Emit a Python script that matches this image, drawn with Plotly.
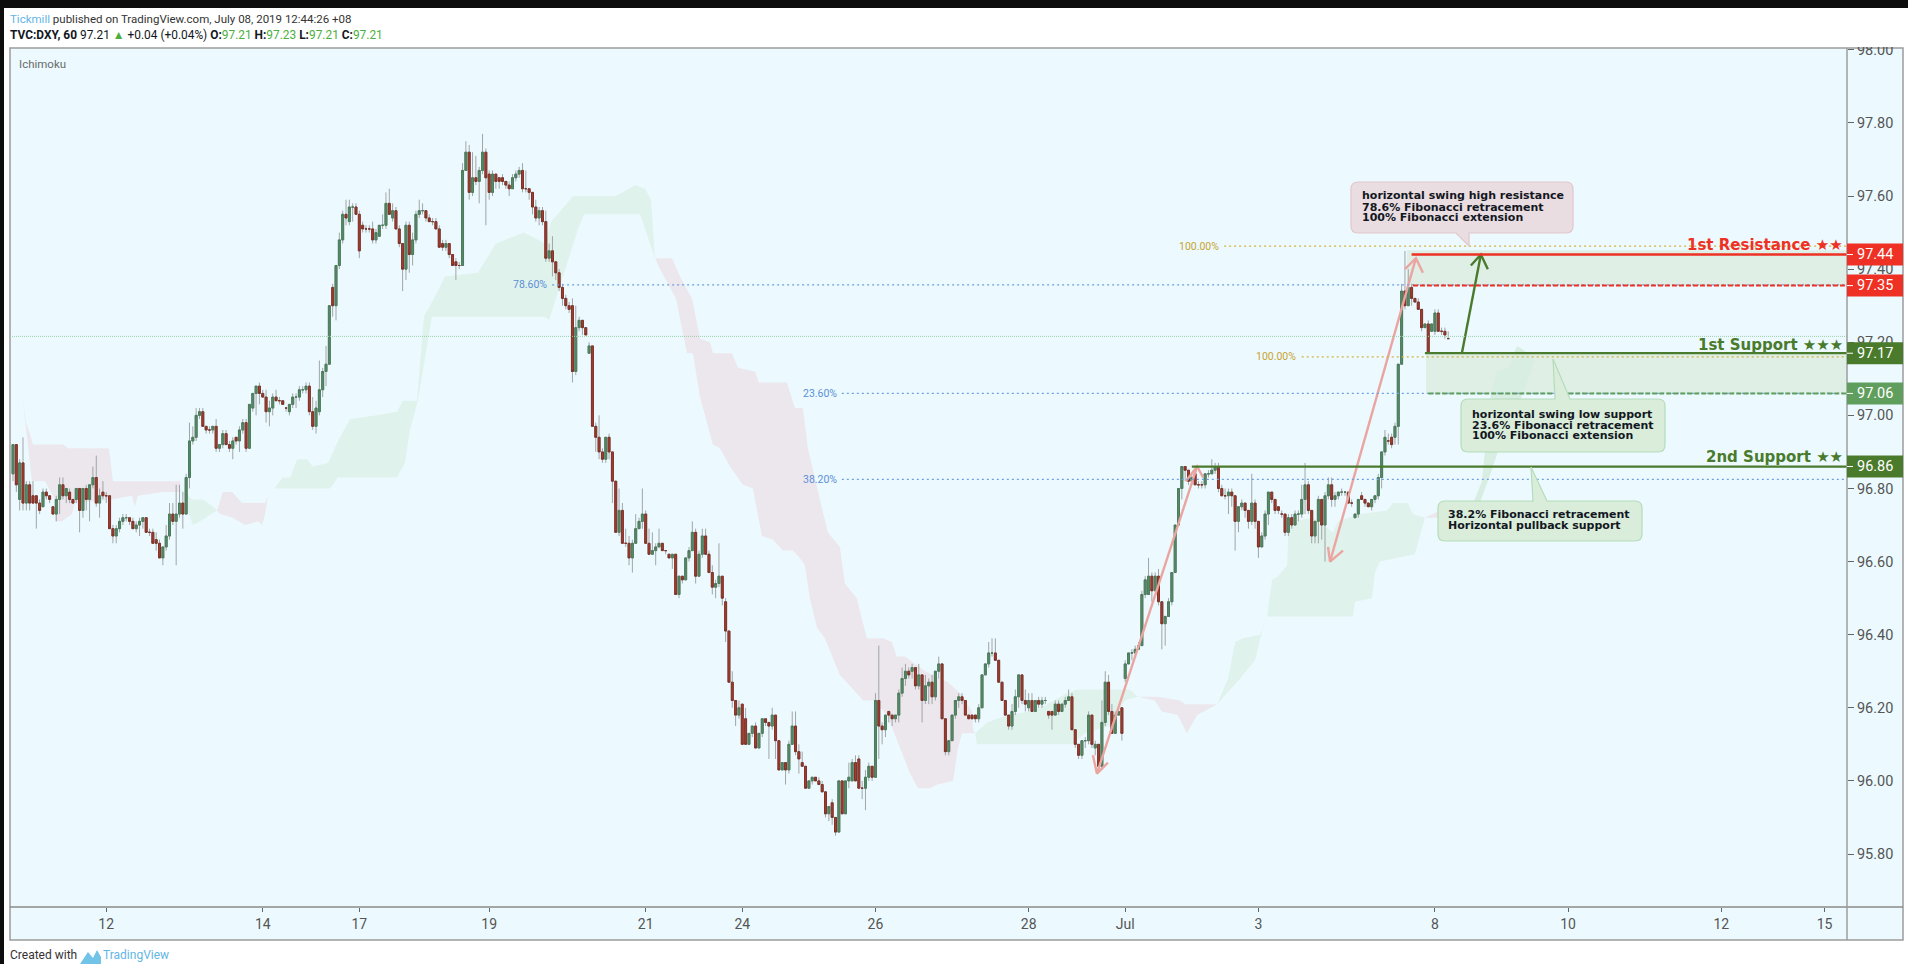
"""
TVC:DXY 60m candles with Ichimoku cloud and support / resistance levels
"""
import plotly.graph_objects as go

W, H = 1908, 964
FONT = "Roboto, Open Sans, sans-serif"
NOTE_FONT = "DejaVu Sans, sans-serif"

opens = [
    96.84, 96.92, 96.77, 96.87, 96.76, 96.81, 96.78, 96.78, 96.76, 96.75,
    96.79, 96.78, 96.75, 96.73, 96.77, 96.81, 96.78, 96.79, 96.77, 96.77,
    96.80, 96.74, 96.80, 96.77, 96.81, 96.83, 96.76, 96.79, 96.78, 96.78,
    96.69, 96.67, 96.69, 96.71, 96.72, 96.72, 96.71, 96.69, 96.70, 96.71,
    96.72, 96.68, 96.68, 96.66, 96.65, 96.61, 96.64, 96.67, 96.73, 96.71,
    96.73, 96.76, 96.73, 96.83, 96.93, 96.94, 97.00, 97.01, 96.97, 96.96,
    96.96, 96.97, 96.91, 96.92, 96.95, 96.92, 96.91, 96.94, 96.93, 96.96,
    96.98, 96.91, 97.02, 97.06, 97.08, 97.06, 97.05, 97.01, 97.02, 97.05,
    97.04, 97.04, 97.02, 97.01, 97.03, 97.05, 97.05, 97.07, 97.07, 97.08,
    97.01, 96.97, 97.01, 97.07, 97.12, 97.14, 97.35, 97.30, 97.41, 97.48,
    97.55, 97.53, 97.57, 97.57, 97.55, 97.52, 97.51, 97.51, 97.51, 97.48,
    97.49, 97.52, 97.52, 97.58, 97.54, 97.56, 97.51, 97.47, 97.40, 97.52,
    97.44, 97.48, 97.55, 97.56, 97.56, 97.54, 97.53, 97.53, 97.51, 97.47,
    97.46, 97.47, 97.44, 97.42, 97.41, 97.41, 97.67, 97.72, 97.61, 97.65,
    97.64, 97.67, 97.72, 97.66, 97.61, 97.66, 97.65, 97.65, 97.64, 97.63,
    97.62, 97.65, 97.66, 97.67, 97.62, 97.62, 97.61, 97.57, 97.54, 97.56,
    97.53, 97.43, 97.45, 97.42, 97.39, 97.35, 97.32, 97.30, 97.30, 97.12,
    97.24, 97.26, 97.24, 97.17, 97.19, 96.97, 96.94, 96.90, 96.88, 96.94,
    96.90, 96.82, 96.68, 96.74, 96.65, 96.65, 96.61, 96.65, 96.69, 96.71,
    96.73, 96.65, 96.62, 96.63, 96.64, 96.65, 96.63, 96.62, 96.61, 96.62,
    96.51, 96.56, 96.55, 96.61, 96.63, 96.68, 96.56, 96.62, 96.67, 96.62,
    96.57, 96.53, 96.54, 96.56, 96.49, 96.41, 96.27, 96.22, 96.18, 96.21,
    96.17, 96.10, 96.13, 96.15, 96.09, 96.13, 96.17, 96.16, 96.15, 96.18,
    96.11, 96.03, 96.05, 96.03, 96.10, 96.15, 96.08, 96.05, 96.04, 95.98,
    96.00, 96.01, 96.00, 95.99, 95.97, 95.91, 95.94, 95.90, 95.86, 96.00,
    95.91, 96.00, 96.00, 96.05, 96.06, 95.98, 95.98, 96.01, 96.04, 96.01,
    96.22, 96.15, 96.14, 96.19, 96.18, 96.17, 96.18, 96.24, 96.28, 96.30,
    96.30, 96.31, 96.26, 96.29, 96.22, 96.26, 96.27, 96.23, 96.30, 96.32,
    96.17, 96.08, 96.11, 96.18, 96.22, 96.23, 96.22, 96.18, 96.18, 96.18,
    96.17, 96.20, 96.29, 96.32, 96.35, 96.35, 96.33, 96.27, 96.22, 96.18,
    96.15, 96.19, 96.23, 96.29, 96.22, 96.20, 96.22, 96.19, 96.22, 96.21,
    96.22, 96.19, 96.19, 96.18, 96.21, 96.19, 96.21, 96.22, 96.23, 96.14,
    96.10, 96.07, 96.11, 96.11, 96.18, 96.09, 96.10, 96.04, 96.16, 96.27,
    96.19, 96.13, 96.18, 96.20, 96.28, 96.32, 96.35, 96.35, 96.36, 96.37,
    96.51, 96.51, 96.56, 96.52, 96.56, 96.49, 96.43, 96.45, 96.49, 96.57,
    96.70, 96.80, 96.86, 96.85, 96.82, 96.84, 96.81, 96.81, 96.81, 96.84,
    96.84, 96.85, 96.86, 96.80, 96.78, 96.78, 96.79, 96.78, 96.71, 96.75,
    96.76, 96.74, 96.71, 96.76, 96.71, 96.64, 96.67, 96.73, 96.79, 96.77,
    96.75, 96.73, 96.73, 96.68, 96.72, 96.70, 96.73, 96.73, 96.77, 96.81,
    96.74, 96.67, 96.71, 96.77, 96.70, 96.78, 96.81, 96.77, 96.78, 96.79,
    96.79, 96.79, 96.76, 96.72, 96.73, 96.78, 96.77, 96.76, 96.75, 96.77, 96.78,
    96.83, 96.90, 96.93, 96.94, 96.94, 96.97, 97.14, 97.34, 97.30, 97.35,
    97.32, 97.31, 97.29, 97.24, 97.25, 97.23, 97.23, 97.28, 97.23, 97.23, 97.21,
]
highs = [
    96.92, 96.92, 96.88, 96.94, 96.82, 96.82, 96.82, 96.78, 96.77, 96.80,
    96.80, 96.78, 96.75, 96.78, 96.83, 96.83, 96.80, 96.80, 96.77, 96.80,
    96.80, 96.80, 96.81, 96.81, 96.86, 96.89, 96.80, 96.82, 96.79, 96.78,
    96.70, 96.70, 96.72, 96.73, 96.73, 96.72, 96.72, 96.71, 96.72, 96.72,
    96.72, 96.69, 96.69, 96.68, 96.66, 96.64, 96.70, 96.76, 96.76, 96.81,
    96.81, 96.79, 96.84, 96.98, 96.97, 97.02, 97.02, 97.02, 96.97, 96.97,
    96.97, 96.99, 96.92, 96.96, 96.96, 96.93, 96.94, 96.94, 96.97, 96.99,
    96.99, 97.03, 97.06, 97.08, 97.09, 97.07, 97.07, 97.04, 97.06, 97.07,
    97.05, 97.04, 97.02, 97.03, 97.06, 97.06, 97.08, 97.08, 97.09, 97.09,
    97.05, 97.04, 97.15, 97.13, 97.19, 97.30, 97.36, 97.41, 97.50, 97.56,
    97.59, 97.59, 97.58, 97.58, 97.56, 97.53, 97.52, 97.52, 97.53, 97.51,
    97.52, 97.55, 97.61, 97.62, 97.58, 97.57, 97.52, 97.47, 97.53, 97.53,
    97.50, 97.56, 97.59, 97.58, 97.56, 97.55, 97.54, 97.54, 97.52, 97.48,
    97.48, 97.47, 97.44, 97.43, 97.42, 97.69, 97.75, 97.74, 97.72, 97.71,
    97.68, 97.77, 97.73, 97.67, 97.67, 97.66, 97.65, 97.66, 97.64, 97.64,
    97.66, 97.67, 97.68, 97.69, 97.67, 97.62, 97.61, 97.59, 97.57, 97.57,
    97.56, 97.47, 97.49, 97.42, 97.40, 97.36, 97.33, 97.31, 97.32, 97.30,
    97.27, 97.26, 97.24, 97.20, 97.19, 96.98, 97.00, 96.91, 96.94, 96.95,
    96.90, 96.82, 96.80, 96.76, 96.69, 96.67, 96.66, 96.73, 96.72, 96.80,
    96.74, 96.69, 96.68, 96.65, 96.69, 96.65, 96.63, 96.62, 96.62, 96.62,
    96.56, 96.56, 96.61, 96.64, 96.71, 96.69, 96.63, 96.69, 96.69, 96.63,
    96.59, 96.55, 96.65, 96.56, 96.50, 96.41, 96.30, 96.22, 96.22, 96.21,
    96.20, 96.13, 96.15, 96.16, 96.13, 96.17, 96.17, 96.16, 96.20, 96.18,
    96.11, 96.05, 96.05, 96.11, 96.19, 96.19, 96.10, 96.08, 96.04, 96.00,
    96.01, 96.01, 96.01, 96.00, 95.97, 95.93, 95.95, 95.90, 96.00, 96.00,
    96.00, 96.05, 96.06, 96.07, 96.07, 96.00, 96.03, 96.05, 96.04, 96.24,
    96.37, 96.16, 96.18, 96.19, 96.18, 96.18, 96.25, 96.31, 96.32, 96.31,
    96.32, 96.31, 96.32, 96.29, 96.29, 96.28, 96.29, 96.30, 96.34, 96.32,
    96.17, 96.11, 96.18, 96.22, 96.24, 96.24, 96.22, 96.18, 96.18, 96.18,
    96.21, 96.29, 96.32, 96.38, 96.39, 96.39, 96.33, 96.27, 96.22, 96.18,
    96.21, 96.25, 96.29, 96.29, 96.25, 96.24, 96.24, 96.22, 96.23, 96.23,
    96.23, 96.19, 96.19, 96.22, 96.22, 96.21, 96.23, 96.25, 96.24, 96.14,
    96.10, 96.11, 96.12, 96.19, 96.18, 96.11, 96.10, 96.22, 96.30, 96.29,
    96.21, 96.19, 96.20, 96.20, 96.33, 96.35, 96.36, 96.37, 96.38, 96.52,
    96.56, 96.61, 96.57, 96.57, 96.58, 96.49, 96.45, 96.50, 96.57, 96.70,
    96.80, 96.86, 96.86, 96.85, 96.84, 96.84, 96.82, 96.82, 96.84, 96.85,
    96.88, 96.87, 96.87, 96.81, 96.80, 96.80, 96.80, 96.78, 96.75, 96.77,
    96.76, 96.74, 96.84, 96.77, 96.71, 96.68, 96.74, 96.79, 96.79, 96.77,
    96.75, 96.74, 96.73, 96.73, 96.73, 96.74, 96.74, 96.81, 96.87, 96.82,
    96.74, 96.71, 96.78, 96.77, 96.79, 96.83, 96.83, 96.79, 96.79, 96.80,
    96.79, 96.79, 96.77, 96.73, 96.77, 96.79, 96.77, 96.76, 96.77, 96.78, 96.84,
    96.90, 96.96, 96.95, 96.95, 96.98, 97.14, 97.36, 97.45, 97.40, 97.36,
    97.32, 97.32, 97.29, 97.25, 97.26, 97.25, 97.29, 97.29, 97.24, 97.24, 97.23,
]
lows = [
    96.82, 96.79, 96.74, 96.74, 96.74, 96.74, 96.76, 96.69, 96.73, 96.75,
    96.77, 96.76, 96.73, 96.71, 96.73, 96.77, 96.76, 96.76, 96.76, 96.76,
    96.68, 96.72, 96.74, 96.71, 96.80, 96.75, 96.72, 96.77, 96.76, 96.69,
    96.65, 96.65, 96.68, 96.70, 96.71, 96.70, 96.69, 96.68, 96.67, 96.69,
    96.68, 96.67, 96.65, 96.63, 96.61, 96.59, 96.63, 96.66, 96.70, 96.59,
    96.72, 96.69, 96.73, 96.80, 96.92, 96.93, 96.99, 96.97, 96.95, 96.95,
    96.95, 96.90, 96.90, 96.91, 96.92, 96.90, 96.88, 96.92, 96.90, 96.95,
    96.90, 96.91, 97.01, 97.00, 97.03, 97.05, 96.98, 96.97, 97.00, 97.04,
    97.03, 97.03, 97.01, 97.00, 97.02, 97.02, 97.04, 97.06, 97.06, 97.00,
    96.96, 96.95, 97.00, 97.05, 97.08, 97.14, 97.27, 97.26, 97.40, 97.47,
    97.52, 97.52, 97.53, 97.55, 97.43, 97.50, 97.50, 97.50, 97.47, 97.47,
    97.49, 97.51, 97.51, 97.55, 97.53, 97.51, 97.46, 97.34, 97.37, 97.39,
    97.41, 97.47, 97.54, 97.55, 97.53, 97.53, 97.52, 97.51, 97.46, 97.45,
    97.45, 97.43, 97.41, 97.37, 97.40, 97.41, 97.67, 97.59, 97.60, 97.63,
    97.58, 97.66, 97.52, 97.59, 97.60, 97.62, 97.62, 97.63, 97.62, 97.60,
    97.62, 97.64, 97.65, 97.61, 97.61, 97.59, 97.55, 97.53, 97.52, 97.52,
    97.42, 97.42, 97.38, 97.37, 97.34, 97.30, 97.29, 97.28, 97.09, 97.11,
    97.23, 97.22, 97.22, 97.17, 96.97, 96.90, 96.88, 96.87, 96.87, 96.88,
    96.76, 96.68, 96.67, 96.65, 96.64, 96.59, 96.57, 96.65, 96.69, 96.69,
    96.65, 96.62, 96.62, 96.59, 96.64, 96.63, 96.62, 96.61, 96.58, 96.51,
    96.50, 96.54, 96.55, 96.60, 96.63, 96.54, 96.56, 96.61, 96.62, 96.57,
    96.51, 96.50, 96.53, 96.48, 96.38, 96.27, 96.20, 96.15, 96.17, 96.10,
    96.10, 96.10, 96.12, 96.09, 96.09, 96.12, 96.15, 96.06, 96.14, 96.06,
    96.03, 96.03, 95.99, 96.02, 96.10, 96.07, 96.02, 96.04, 95.98, 95.98,
    95.99, 96.00, 95.99, 95.97, 95.90, 95.89, 95.88, 95.85, 95.86, 95.91,
    95.91, 95.98, 96.00, 96.00, 95.98, 95.95, 95.92, 96.00, 96.00, 96.01,
    96.06, 96.10, 96.12, 96.16, 96.15, 96.16, 96.16, 96.23, 96.26, 96.28,
    96.28, 96.25, 96.25, 96.16, 96.21, 96.21, 96.21, 96.22, 96.28, 96.17,
    96.07, 96.07, 96.11, 96.17, 96.20, 96.21, 96.18, 96.17, 96.17, 96.16,
    96.16, 96.20, 96.29, 96.31, 96.34, 96.33, 96.27, 96.22, 96.18, 96.14,
    96.14, 96.18, 96.20, 96.21, 96.19, 96.19, 96.19, 96.19, 96.20, 96.20,
    96.21, 96.17, 96.14, 96.18, 96.18, 96.19, 96.20, 96.22, 96.14, 96.09,
    96.06, 96.06, 96.09, 96.10, 96.09, 96.07, 96.03, 96.03, 96.15, 96.18,
    96.13, 96.13, 96.18, 96.11, 96.27, 96.32, 96.33, 96.34, 96.36, 96.37,
    96.50, 96.51, 96.49, 96.52, 96.48, 96.36, 96.37, 96.45, 96.48, 96.57,
    96.70, 96.77, 96.82, 96.81, 96.81, 96.81, 96.80, 96.80, 96.80, 96.83,
    96.84, 96.84, 96.79, 96.78, 96.77, 96.73, 96.75, 96.63, 96.68, 96.74,
    96.72, 96.69, 96.70, 96.69, 96.61, 96.64, 96.66, 96.70, 96.76, 96.73,
    96.73, 96.72, 96.67, 96.67, 96.69, 96.70, 96.71, 96.72, 96.73, 96.73,
    96.65, 96.65, 96.65, 96.66, 96.60, 96.77, 96.75, 96.75, 96.77, 96.78,
    96.78, 96.76, 96.75, 96.72, 96.72, 96.77, 96.75, 96.75, 96.74, 96.76, 96.77,
    96.80, 96.89, 96.92, 96.91, 96.92, 96.92, 97.14, 97.29, 97.30, 97.30,
    97.31, 97.29, 97.23, 97.24, 97.17, 97.23, 97.22, 97.23, 97.22, 97.21, 97.21,
]
closes = [
    96.92, 96.81, 96.87, 96.76, 96.81, 96.76, 96.76, 96.76, 96.74, 96.79,
    96.78, 96.77, 96.73, 96.77, 96.81, 96.78, 96.80, 96.77, 96.76, 96.80,
    96.74, 96.80, 96.77, 96.81, 96.83, 96.76, 96.78, 96.78, 96.78, 96.69,
    96.67, 96.69, 96.71, 96.72, 96.72, 96.71, 96.69, 96.70, 96.71, 96.72,
    96.68, 96.68, 96.65, 96.65, 96.61, 96.64, 96.67, 96.73, 96.71, 96.73,
    96.76, 96.73, 96.83, 96.93, 96.94, 97.00, 97.01, 96.97, 96.96, 96.96,
    96.97, 96.91, 96.92, 96.95, 96.92, 96.91, 96.93, 96.93, 96.96, 96.98,
    96.91, 97.03, 97.06, 97.08, 97.06, 97.05, 97.01, 97.02, 97.05, 97.04,
    97.04, 97.03, 97.02, 97.03, 97.05, 97.05, 97.07, 97.07, 97.08, 97.01,
    96.97, 97.02, 97.07, 97.12, 97.14, 97.30, 97.30, 97.41, 97.48, 97.55,
    97.54, 97.57, 97.57, 97.55, 97.45, 97.51, 97.51, 97.51, 97.48, 97.50,
    97.52, 97.52, 97.58, 97.55, 97.56, 97.51, 97.47, 97.40, 97.52, 97.44,
    97.48, 97.55, 97.56, 97.56, 97.54, 97.53, 97.53, 97.51, 97.46, 97.46,
    97.47, 97.44, 97.41, 97.41, 97.41, 97.67, 97.72, 97.61, 97.65, 97.64,
    97.67, 97.72, 97.65, 97.61, 97.66, 97.64, 97.64, 97.64, 97.63, 97.62,
    97.65, 97.66, 97.67, 97.62, 97.62, 97.61, 97.57, 97.54, 97.56, 97.53,
    97.43, 97.45, 97.42, 97.39, 97.35, 97.32, 97.30, 97.29, 97.12, 97.24,
    97.26, 97.24, 97.22, 97.19, 96.97, 96.94, 96.90, 96.88, 96.94, 96.90,
    96.82, 96.68, 96.74, 96.65, 96.65, 96.61, 96.65, 96.69, 96.71, 96.73,
    96.65, 96.62, 96.63, 96.64, 96.65, 96.63, 96.63, 96.61, 96.62, 96.51,
    96.56, 96.55, 96.61, 96.63, 96.68, 96.56, 96.62, 96.67, 96.62, 96.57,
    96.53, 96.54, 96.56, 96.50, 96.41, 96.27, 96.22, 96.18, 96.20, 96.10,
    96.10, 96.13, 96.15, 96.09, 96.13, 96.17, 96.16, 96.15, 96.18, 96.11,
    96.03, 96.05, 96.03, 96.10, 96.15, 96.08, 96.06, 96.04, 95.98, 96.00,
    96.01, 96.00, 95.99, 95.97, 95.91, 95.93, 95.90, 95.86, 96.00, 95.91,
    96.00, 96.01, 96.05, 96.00, 95.98, 95.98, 96.01, 96.04, 96.01, 96.22,
    96.15, 96.14, 96.18, 96.18, 96.17, 96.18, 96.24, 96.28, 96.30, 96.29,
    96.31, 96.26, 96.29, 96.22, 96.26, 96.27, 96.23, 96.30, 96.32, 96.17,
    96.08, 96.11, 96.18, 96.22, 96.23, 96.22, 96.18, 96.17, 96.17, 96.17,
    96.20, 96.29, 96.32, 96.35, 96.35, 96.33, 96.27, 96.22, 96.18, 96.15,
    96.19, 96.23, 96.29, 96.22, 96.21, 96.22, 96.19, 96.22, 96.21, 96.22,
    96.22, 96.18, 96.18, 96.21, 96.19, 96.21, 96.22, 96.23, 96.14, 96.10,
    96.07, 96.11, 96.11, 96.18, 96.10, 96.10, 96.04, 96.16, 96.27, 96.19,
    96.13, 96.18, 96.19, 96.13, 96.32, 96.35, 96.35, 96.36, 96.37, 96.51,
    96.55, 96.56, 96.52, 96.56, 96.49, 96.43, 96.45, 96.49, 96.57, 96.70,
    96.80, 96.86, 96.85, 96.82, 96.83, 96.81, 96.81, 96.81, 96.84, 96.84,
    96.85, 96.86, 96.80, 96.78, 96.78, 96.79, 96.78, 96.71, 96.75, 96.76,
    96.74, 96.71, 96.76, 96.71, 96.64, 96.67, 96.73, 96.79, 96.77, 96.74,
    96.74, 96.73, 96.68, 96.72, 96.70, 96.73, 96.73, 96.77, 96.81, 96.74,
    96.67, 96.71, 96.77, 96.70, 96.78, 96.81, 96.77, 96.78, 96.79, 96.79,
    96.79, 96.76, 96.76, 96.73, 96.77, 96.77, 96.76, 96.75, 96.77, 96.78, 96.83,
    96.90, 96.94, 96.93, 96.92, 96.97, 97.14, 97.34, 97.30, 97.35, 97.32,
    97.31, 97.29, 97.24, 97.25, 97.17, 97.25, 97.28, 97.23, 97.23, 97.22, 97.21,
]
bars = list(range(len(closes)))

# cloud outlines, one upper and one lower edge per stretch
pink1_upper_x = [2.7, 3.9, 5.1, 6, 15, 16.5, 28.8, 30, 50.2]
pink1_upper_y = [97.06, 96.98, 96.95, 96.92, 96.92, 96.91, 96.91, 96.82, 96.82]
pink1_lower_x = [2.7, 5.7, 9.6, 12.6, 12.6, 14.7, 17.7, 18.6, 29.7, 35.7, 36.6, 37.5, 45, 50.2]
pink1_lower_y = [97.06, 96.82, 96.82, 96.77, 96.71, 96.71, 96.73, 96.76, 96.77, 96.78, 96.75, 96.78, 96.79, 96.79]
green2_upper_x = [50.2, 53.8, 57, 60, 61.3]
green2_upper_y = [96.80, 96.77, 96.77, 96.75, 96.74]
green2_lower_x = [50.2, 54, 56.2, 59.5, 61.3]
green2_lower_y = [96.80, 96.70, 96.71, 96.73, 96.74]
pink3_upper_x = [61.3, 63, 65.8, 68.8, 75.7, 76.6]
pink3_upper_y = [96.74, 96.79, 96.79, 96.76, 96.76, 96.78]
pink3_lower_x = [61.3, 62.2, 66, 69.7, 73.6, 74.8, 75.7, 76.6]
pink3_lower_y = [96.74, 96.73, 96.72, 96.70, 96.71, 96.70, 96.73, 96.78]
green4_upper_x = [76.6, 78.4, 81, 83.2, 85.3, 88.3, 90, 94.6, 97.6, 101.2, 109.3, 115.3, 117.1, 121.3, 123.4,
                  127.6, 129.7, 139.6, 145, 153.4, 159.8, 161.6, 168.2, 181, 186.8, 189.8, 191.6, 192.8]
green4_upper_y = [96.78, 96.80, 96.83, 96.83, 96.88, 96.88, 96.86, 96.87, 96.93, 96.99, 97.00, 97.01, 97.04, 97.04, 97.27,
                  97.34, 97.38, 97.39, 97.47, 97.50, 97.47, 97.53, 97.60, 97.60, 97.63, 97.62, 97.59, 97.43]
green4_lower_x = [76.6, 78.4, 95.2, 97.6, 115.3, 117.7, 119.2, 121.6, 125.8, 159.8, 161, 169.7, 171.5, 188.3, 192.8]
green4_lower_y = [96.78, 96.80, 96.80, 96.83, 96.83, 96.87, 96.96, 97.04, 97.27, 97.27, 97.26, 97.51, 97.55, 97.55, 97.43]
pink5_upper_x = [192.8, 197.9, 200.3, 203.9, 206.3, 209.3, 210.2, 215.9, 217.7, 222.8, 224, 232.4, 234.8, 237.2, 238.7,
                 242.3, 244.7, 248.3, 249.8, 253.4, 256.4, 261.3, 263.9, 265.4, 267.9, 273.9, 280.8, 284.4, 288, 288.3, 288.9]
pink5_upper_y = [97.43, 97.43, 97.38, 97.32, 97.21, 97.20, 97.17, 97.17, 97.13, 97.12, 97.09, 97.09, 97.02, 97.02, 96.91,
                 96.77, 96.68, 96.64, 96.54, 96.50, 96.39, 96.39, 96.38, 96.34, 96.34, 96.30, 96.27, 96.24, 96.19, 96.14, 96.13]
pink5_lower_x = [192.8, 194.3, 199.1, 202.4, 204.2, 206.3, 208.4, 210.2, 212.3, 215.3, 219.2, 222.2, 224.9, 228.2, 231.2, 234.2,
                 236.3, 237.8, 239.3, 241.4, 243.8, 248.3, 251.3, 255.3, 258.3, 262.5, 266.4, 269.4, 271.8, 275.4, 277.5,
                 282.3, 283.8, 285, 288.9]
pink5_lower_y = [97.43, 97.40, 97.32, 97.17, 97.17, 97.05, 96.98, 96.92, 96.91, 96.86, 96.81, 96.80, 96.67, 96.66, 96.63, 96.63,
                 96.61, 96.59, 96.50, 96.42, 96.39, 96.29, 96.26, 96.22, 96.22, 96.18, 96.09, 96.02, 95.98, 95.98, 95.99,
                 96.00, 96.09, 96.13, 96.13]
green6_upper_x = [288.9, 292.5, 298.5, 305.4, 310.5, 316.5, 319.5, 322.5, 335.4, 337.8]
green6_upper_y = [96.13, 96.16, 96.18, 96.19, 96.21, 96.24, 96.25, 96.25, 96.25, 96.23]
green6_lower_x = [288.9, 289.5, 318, 321.9, 329.4, 333.9, 337.8]
green6_lower_y = [96.13, 96.10, 96.10, 96.13, 96.15, 96.22, 96.23]
pink7_upper_x = [337.8, 343.8, 350.4, 351.9, 361.6]
pink7_upper_y = [96.23, 96.23, 96.22, 96.21, 96.21]
pink7_lower_x = [337.8, 342.9, 345, 349.8, 352.5, 355.6, 361.6]
pink7_lower_y = [96.23, 96.22, 96.19, 96.18, 96.13, 96.18, 96.21]
green8_upper_x = [361.6, 364.9, 367, 369.4, 374.5, 376.6, 378.1, 379.9, 382.6, 382.9, 384.1, 390.4, 396.4, 397.9, 404.5,
                  412.6, 414.4, 418.9, 420.4, 424]
green8_upper_y = [96.21, 96.28, 96.38, 96.39, 96.40, 96.45, 96.55, 96.56, 96.59, 96.67, 96.71, 96.72, 96.68, 96.71, 96.73,
                  96.74, 96.76, 96.76, 96.73, 96.72]
green8_lower_x = [361.6, 368.5, 373, 375.1, 376.6, 402.4, 403, 408.1, 409, 410.5, 421, 424]
green8_lower_y = [96.21, 96.28, 96.33, 96.41, 96.45, 96.45, 96.49, 96.50, 96.57, 96.60, 96.62, 96.72]
pink9_upper_x = [424, 428.5]
pink9_upper_y = [96.72, 96.74]
pink9_lower_x = [424, 428.5]
pink9_lower_y = [96.72, 96.72]
green10_upper_x = [428.5, 438.1, 441.1, 443.8, 445.6, 449.2, 451.6, 453.5, 457.1]
green10_upper_y = [96.73, 96.75, 96.82, 97.06, 97.12, 97.13, 97.19, 97.18, 97.15]
green10_lower_x = [428.5, 440.5, 444.1, 448, 452.6, 457.1]
green10_lower_y = [96.73, 96.76, 96.85, 96.96, 97.04, 97.15]

# levels on the price scale
level_prices = [97.44, 97.355, 97.17, 97.06, 96.86]
level_labels = ["97.44", "97.35", "97.17", "97.06", "96.86"]
level_starts = [420, 420.4, 424, 425, 354]
level_colors = ["#ee3124", "#ee3124", "#4a7a2c", "#5f9e5c", "#4a7a2c"]
level_dashes = ["solid", "5px,2px", "solid", "5px,2px", "solid"]
level_widths = [2.5, 2, 2.2, 2, 2.2]
level_names = ["1st Resistance ★★", None, "1st Support ★★★", None, "2nd Support ★★"]
name_prices = [97.465, None, 97.193, None, 96.885]

fib_prices = [97.357, 97.06, 96.825]
fib_labels = ["78.60%", "23.60%", "38.20%"]
fib_starts = [161.9, 248.9, 248.9]
ext_prices = [97.463, 97.16]
ext_starts = [363.7, 387]
last_price = 97.216

zone_tops = [97.452, 97.17]
zone_bottoms = [97.355, 97.06]
zone_starts = [418.6, 424.3]

pink_arrow_x = [325.5, 355.6, None, 352.2, 355.6, 357.4, None, 324.3, 325.5, 328.8, None,
                395.5, 421.3, None, 418, 421.3, 423.4, None, 394.9, 395.5, 399.4]
pink_arrow_y = [96.02, 96.86, None, 96.82, 96.86, 96.83, None, 96.07, 96.02, 96.05, None,
                96.60, 97.43, None, 97.40, 97.43, 97.39, None, 96.64, 96.60, 96.63]
green_arrow_x = [435.1, 440.8, None, 437.8, 440.8, 442.9]
green_arrow_y = [97.17, 97.44, None, 97.41, 97.44, 97.40]

y_ticks = [95.8, 96.0, 96.2, 96.4, 96.6, 96.8, 97.0, 97.2, 97.4, 97.6, 97.8, 98.0]
x_ticks = [28, 75, 104, 143, 190, 219, 259, 305, 334, 374, 427, 467, 513, 544]
x_labels = ["12", "14", "17", "19", "21", "24", "26", "28", "Jul", "3", "8", "10", "12", "15"]

X_MIN, X_MAX = -0.9, 550.75


def px(x):
    return x / W


def py(y):
    return 1 - y / H


def cloud(ux, uy, lx, ly, color):
    # kept as a shape so it stays under the candles
    xs = ux + lx[::-1]
    ys = uy + ly[::-1]
    path = "M" + " L".join(f"{x} {y}" for x, y in zip(xs, ys)) + " Z"
    return dict(type="path", xref="x", yref="y", path=path, fillcolor=color, line=dict(width=0), layer="below")


def note(fig, x, y, text, size=11, color="#131722", family=NOTE_FONT, anchor="left"):
    fig.add_annotation(
        x=px(x), y=py(y), xref="paper", yref="paper", text=text, showarrow=False,
        xanchor=anchor, yanchor="middle", align=anchor, borderpad=0,
        font=dict(family=family, size=size, color=color),
    )


def callout(x0, y0, x1, y1, tail, on_top, fill, edge):
    # rounded box with a pointer, corners given in page pixels
    r = 7
    pts = [("M", x0 + r, y0)]
    if on_top:
        pts += [("L", *t) for t in tail]
    pts += [("L", x1 - r, y0), ("Q", x1, y0, x1, y0 + r), ("L", x1, y1 - r), ("Q", x1, y1, x1 - r, y1)]
    if not on_top:
        pts += [("L", *t) for t in tail[::-1]]
    pts += [("L", x0 + r, y1), ("Q", x0, y1, x0, y1 - r), ("L", x0, y0 + r), ("Q", x0, y0, x0 + r, y0)]
    path = ""
    for p in pts:
        coords = p[1:]
        path += p[0] + " ".join(
            f"{px(v):.5f}" if i % 2 == 0 else f"{py(v):.5f}" for i, v in enumerate(coords)
        ) + " "
    return dict(type="path", xref="paper", yref="paper", path=path + "Z",
                fillcolor=fill, line=dict(color=edge, width=1.2), layer="above")


def page_rect(x0, y0, x1, y1, fill, line=None, layer="above"):
    return dict(type="rect", xref="paper", yref="paper", x0=px(x0), x1=px(x1), y0=py(y0), y1=py(y1),
                fillcolor=fill, line=dict(color=line or fill, width=1.5 if line else 0), layer=layer)


fig = go.Figure()

# grey wicks underneath, coloured bodies on top
WICK = "#a0a5a6"
fig.add_trace(go.Candlestick(
    x=bars, open=opens, high=highs, low=lows, close=closes, whiskerwidth=0, hoverinfo="skip",
    increasing=dict(line=dict(color=WICK, width=1), fillcolor=WICK),
    decreasing=dict(line=dict(color=WICK, width=1), fillcolor=WICK),
))
body_top = [max(o, c) for o, c in zip(opens, closes)]
body_bottom = [min(o, c) for o, c in zip(opens, closes)]
fig.add_trace(go.Candlestick(
    x=bars, open=opens, high=body_top, low=body_bottom, close=closes, whiskerwidth=0,
    increasing=dict(line=dict(color="#4c7c5c", width=1), fillcolor="#558a68"),
    decreasing=dict(line=dict(color="#7d3329", width=1), fillcolor="#a83a2c"),
))

fig.add_trace(go.Scatter(x=pink_arrow_x, y=pink_arrow_y, mode="lines", hoverinfo="skip",
                         line=dict(color="#eaa5a1", width=2.4)))
fig.add_trace(go.Scatter(x=green_arrow_x, y=green_arrow_y, mode="lines", hoverinfo="skip",
                         line=dict(color="#4a7a2c", width=2.4)))

CLOUD_GREEN = "#e0f2ec"
CLOUD_PINK = "#ebe7ed"
shapes = [
    page_rect(0, 0, W, H, "white", layer="below"),
    page_rect(10, 48, 1903, 940, "#ecfaff", line="#9c9c9c", layer="below"),
    cloud(pink1_upper_x, pink1_upper_y, pink1_lower_x, pink1_lower_y, CLOUD_PINK),
    cloud(green2_upper_x, green2_upper_y, green2_lower_x, green2_lower_y, CLOUD_GREEN),
    cloud(pink3_upper_x, pink3_upper_y, pink3_lower_x, pink3_lower_y, CLOUD_PINK),
    cloud(green4_upper_x, green4_upper_y, green4_lower_x, green4_lower_y, CLOUD_GREEN),
    cloud(pink5_upper_x, pink5_upper_y, pink5_lower_x, pink5_lower_y, CLOUD_PINK),
    cloud(green6_upper_x, green6_upper_y, green6_lower_x, green6_lower_y, CLOUD_GREEN),
    cloud(pink7_upper_x, pink7_upper_y, pink7_lower_x, pink7_lower_y, CLOUD_PINK),
    cloud(green8_upper_x, green8_upper_y, green8_lower_x, green8_lower_y, CLOUD_GREEN),
    cloud(pink9_upper_x, pink9_upper_y, pink9_lower_x, pink9_lower_y, CLOUD_PINK),
]
for top, bottom, start in zip(zone_tops, zone_bottoms, zone_starts):
    shapes.append(dict(type="rect", xref="x", yref="y", x0=start, x1=X_MAX, y0=bottom, y1=top,
                       fillcolor="#dfefe6", line=dict(width=0), layer="below"))
shapes.append(cloud(green10_upper_x, green10_upper_y, green10_lower_x, green10_lower_y, "#d9eee3"))

shapes.append(dict(type="line", xref="x", yref="y", x0=X_MIN, x1=X_MAX, y0=last_price, y1=last_price,
                   line=dict(color="#9ccfa9", width=1, dash="1px,1px"), layer="above"))
for price, start in zip(fib_prices, fib_starts):
    shapes.append(dict(type="line", xref="x", yref="y", x0=start, x1=X_MAX, y0=price, y1=price,
                       line=dict(color="#6f9fe0", width=1.3, dash="2px,3px"), layer="above"))
for price, start in zip(ext_prices, ext_starts):
    shapes.append(dict(type="line", xref="x", yref="y", x0=start, x1=X_MAX, y0=price, y1=price,
                       line=dict(color="#d4b13c", width=1.3, dash="2px,3px"), layer="above"))
for price, start, color, dash, width in zip(level_prices, level_starts, level_colors, level_dashes, level_widths):
    shapes.append(dict(type="line", xref="x", yref="y", x0=start, x1=X_MAX, y0=price, y1=price,
                       line=dict(color=color, width=width, dash=dash), layer="above"))

# callouts
shapes.append(callout(1351, 182, 1573, 233, [(1456, 233), (1469, 246), (1469, 233)], False, "#e9dde1", "#e2c6ca"))
shapes.append(callout(1461, 399, 1665, 452, [(1555, 399), (1553, 359), (1570, 399)], True, "#d9edda", "#b6dcb9"))
shapes.append(callout(1438, 501, 1642, 541, [(1533, 501), (1531, 467), (1547, 501)], True, "#d9edda", "#b6dcb9"))

# frame, axis rules, price flags
shapes.append(dict(type="line", xref="paper", yref="paper", x0=px(10), x1=px(1903), y0=py(907), y1=py(907),
                   line=dict(color="#8a8a8a", width=1.5), layer="above"))
shapes.append(dict(type="line", xref="paper", yref="paper", x0=px(1847), x1=px(1847), y0=py(48), y1=py(940),
                   line=dict(color="#9c9c9c", width=1.5), layer="above"))
for price, color in zip(level_prices, level_colors):
    shapes.append(dict(type="rect", xref="paper", yref="y", ysizemode="pixel", yanchor=price,
                       x0=px(1847), x1=px(1903), y0=-11, y1=11,
                       fillcolor=color, line=dict(width=0), layer="above"))
    shapes.append(dict(type="line", xref="paper", yref="y", x0=px(1847), x1=px(1853), y0=price, y1=price,
                       line=dict(color="white", width=1), layer="above"))

# page furniture: hides the clipped 98.00 label top, black screenshot edges, logo
shapes.append(page_rect(1847, 8, W, 47, "white"))
shapes.append(page_rect(0, 0, W, 8, "#0d0d0d"))
shapes.append(page_rect(0, 0, 4, H, "#0d0d0d"))
shapes.append(dict(type="path", xref="paper", yref="paper", fillcolor="#72c3e8", line=dict(width=0), layer="above",
                   path=" ".join(f"{c}{px(x):.5f} {py(y):.5f}" for c, x, y in [
                       ("M", 80, 964), ("L", 88, 952), ("L", 93, 958), ("L", 97, 950), ("L", 101, 957), ("L", 101, 964)
                   ]) + " Z"))

fig.update_layout(
    width=W, height=H, margin=dict(l=0, r=0, t=0, b=0, pad=0),
    paper_bgcolor="white", plot_bgcolor="#ecfaff", showlegend=False,
    boxmode="overlay", boxgap=0.15,
    font=dict(family=FONT, size=14, color="#555555"),
    shapes=shapes,
    xaxis=dict(
        domain=[px(10), px(1847)], range=[X_MIN, X_MAX], type="linear", rangeslider=dict(visible=False),
        tickmode="array", tickvals=x_ticks, ticktext=x_labels, ticks="outside", ticklen=4, tickcolor="#666666",
        tickfont=dict(family=FONT, size=14, color="#555555"),
        showgrid=False, zeroline=False, showline=False, automargin=False, anchor="y",
    ),
    yaxis=dict(
        domain=[py(907), py(48)], range=[95.655, 98.005], side="right", anchor="x",
        tickmode="array", tickvals=y_ticks, ticktext=[f"{v:.2f}" for v in y_ticks],
        ticks="outside", ticklen=6, tickcolor="#666666",
        tickfont=dict(family=FONT, size=14.5, color="#555555"),
        showgrid=False, zeroline=False, showline=False, automargin=False,
    ),
)

# header and footer
note(fig, 9, 19, '<span style="color:#62b6e6">Tickmill</span> published on TradingView.com, July 08, 2019 12:44:26 +08',
     size=11.5, color="#333333", family=FONT)
GRN = "#4caf3d"
note(fig, 9, 35,
     f'<b>TVC:DXY, 60</b> 97.21 <span style="color:{GRN}">▲</span> +0.04 (+0.04%) '
     f'<b>O:</b><span style="color:{GRN}">97.21</span> <b>H:</b><span style="color:{GRN}">97.23</span> '
     f'<b>L:</b><span style="color:{GRN}">97.21</span> <b>C:</b><span style="color:{GRN}">97.21</span>',
     size=11.9, color="#131722", family=FONT)
note(fig, 18, 64, "Ichimoku", size=11.5, color="#6a6a6a", family=FONT)
note(fig, 9, 955, "Created with", size=12, color="#333333", family=FONT)
note(fig, 102, 955, "TradingView", size=12, color="#62b6e6", family=FONT)

# fib ratio captions
for price, label, start in zip(fib_prices, fib_labels, fib_starts):
    fig.add_annotation(x=start - 1, y=price, text=label, showarrow=False, xanchor="right", yanchor="middle",
                       font=dict(family=FONT, size=10.5, color="#5b8fd6"))
for price, start in zip(ext_prices, ext_starts):
    fig.add_annotation(x=start - 1, y=price, text="100.00%", showarrow=False, xanchor="right", yanchor="middle",
                       font=dict(family=FONT, size=10.5, color="#c8a32e"))

# callout text, line by line for the tight leading
for i, line in enumerate(["horizontal swing high resistance", "78.6% Fibonacci retracement", "100% Fibonacci extension"]):
    note(fig, 1361, 196 + 11 * i, f"<b>{line}</b>")
for i, line in enumerate(["horizontal swing low support", "23.6% Fibonacci retracement", "100% Fibonacci extension"]):
    note(fig, 1471, 414 + 11 * i, f"<b>{line}</b>")
for i, line in enumerate(["38.2% Fibonacci retracement", "Horizontal pullback support"]):
    note(fig, 1447, 514 + 11 * i, f"<b>{line}</b>")

# level names and flag values
for name, y, color in zip(level_names, name_prices, level_colors):
    if name:
        fig.add_annotation(x=X_MAX, y=y, text=f"<b>{name}</b>", showarrow=False, xanchor="right", yanchor="middle",
                           xshift=-2, font=dict(family=NOTE_FONT, size=15, color=color))
for price, label in zip(level_prices, level_labels):
    fig.add_annotation(x=px(1875), xref="paper", y=price, yref="y", text=label, showarrow=False,
                       xanchor="center", yanchor="middle", font=dict(family=FONT, size=14.5, color="white"))

fig.write_html(
    "out.html",
    config={"displayModeBar": False},
    post_script="document.body.style.margin='0';document.body.style.overflow='hidden';",
)
